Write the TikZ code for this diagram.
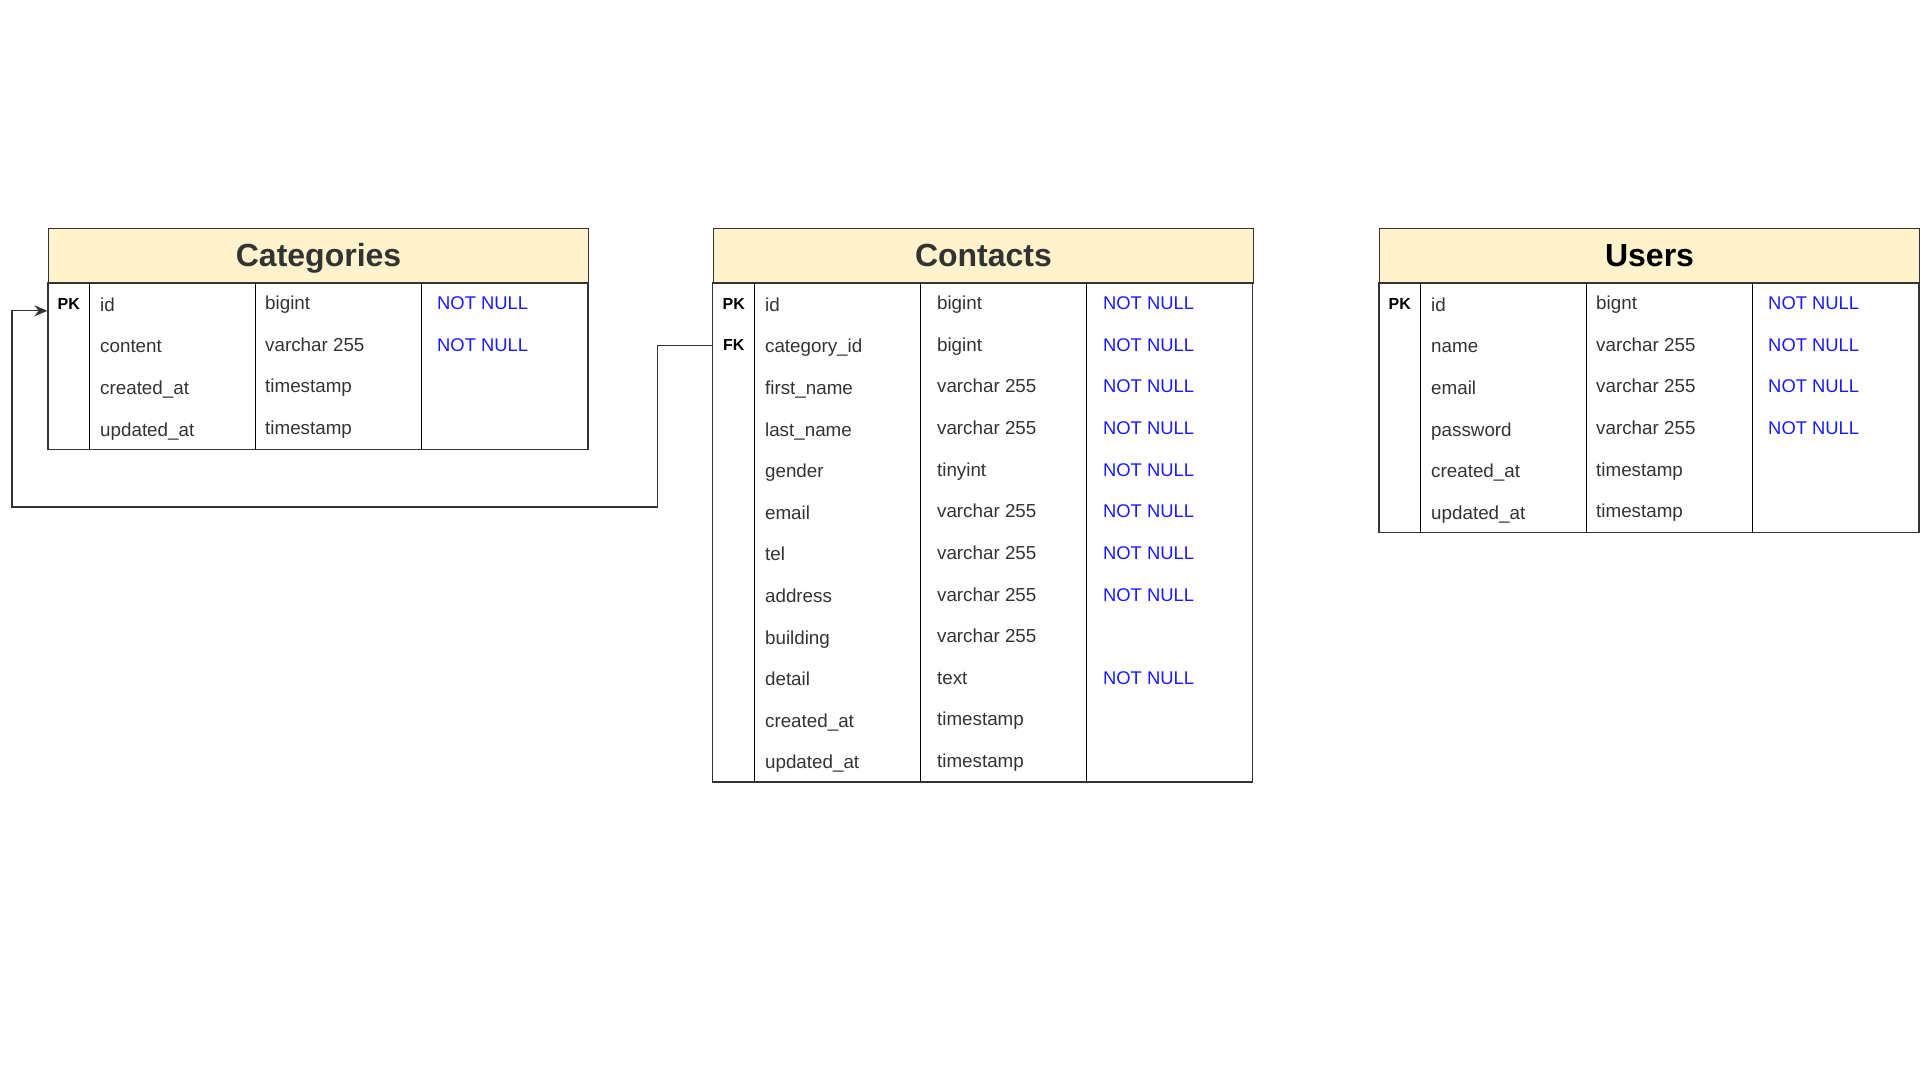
\documentclass[tikz,border=0pt]{standalone}
\usepackage{fontspec}
\setmainfont{Liberation Sans}
\usetikzlibrary{arrows.meta}
\definecolor{hdrfill}{HTML}{FFF2CC}
\definecolor{txtgray}{HTML}{333333}
\definecolor{nnblue}{HTML}{1A1AFF}

\begin{document}
\begin{tikzpicture}[x=0.5pt,y=-0.5pt,
    tblhead/.style={draw=txtgray,line width=0.75pt,fill=hdrfill,anchor=north west,
      minimum width=270pt,minimum height=27.5pt,inner sep=0pt,
      text height=11.5pt,text depth=0.8pt,
      font=\fontsize{16}{18}\selectfont\bfseries},
    tblline/.style={draw=txtgray,line width=0.75pt},
    colline/.style={draw=black,line width=0.6pt},
    keycell/.style={minimum width=21pt,minimum height=20.8pt,inner sep=0pt,
      font=\fontsize{8}{9}\selectfont\bfseries},
    fldtxt/.style={anchor=base west,inner sep=0pt,text=txtgray,
      font=\fontsize{9.4}{11}\selectfont},
    cnstxt/.style={anchor=base west,inner sep=0pt,text=nnblue,
      font=\fontsize{9.2}{11}\selectfont},
    link/.style={draw=txtgray,line width=0.65pt}]

    \useasboundingbox (0,0) rectangle (1920,1080);

    % ---- Categories ----
    \begin{scope}[shift={(47.8,0)}]
      \node[tblhead,text=txtgray] (cat-head) at (0,228) {Categories};
      \draw[tblline] (0,283) rectangle (540,449.4);
      \foreach \x in {42,208,374}
        \draw[colline] (\x,283) -- (\x,449.4);
      \foreach \i/\key/\fld/\typ/\cns in {
          1/PK/id/bigint/NOT NULL,
          2/{}/content/varchar 255/NOT NULL,
          3/{}/created\_at/timestamp/{},
          4/{}/updated\_at/timestamp/{}
      }{
        \node[keycell] (cat-k\i) at (21,{283+41.6*(\i-0.5)}) {\key};
        \node[fldtxt] (cat-f\i) at (52,{283+41.6*(\i-0.5)+7.5}) {\fld};
        \node[fldtxt] (cat-t\i) at (217,{283+41.6*(\i-0.5)+6}) {\typ};
        \node[cnstxt] (cat-c\i) at (389,{283+41.6*(\i-0.5)+6}) {\cns};
      }
    \end{scope}

    % ---- Contacts ----
    \begin{scope}[shift={(712.7,0)}]
      \node[tblhead,text=txtgray] (con-head) at (0,228) {Contacts};
      \draw[tblline] (0,283) rectangle (540,782.2);
      \foreach \x in {42,208,374}
        \draw[colline] (\x,283) -- (\x,782.2);
      \foreach \i/\key/\fld/\typ/\cns in {
          1/PK/id/bigint/NOT NULL,
          2/FK/category\_id/bigint/NOT NULL,
          3/{}/first\_name/varchar 255/NOT NULL,
          4/{}/last\_name/varchar 255/NOT NULL,
          5/{}/gender/tinyint/NOT NULL,
          6/{}/email/varchar 255/NOT NULL,
          7/{}/tel/varchar 255/NOT NULL,
          8/{}/address/varchar 255/NOT NULL,
          9/{}/building/varchar 255/{},
          10/{}/detail/text/NOT NULL,
          11/{}/created\_at/timestamp/{},
          12/{}/updated\_at/timestamp/{}
      }{
        \node[keycell] (con-k\i) at (21,{283+41.6*(\i-0.5)}) {\key};
        \node[fldtxt] (con-f\i) at (52,{283+41.6*(\i-0.5)+7.5}) {\fld};
        \node[fldtxt] (con-t\i) at (224,{283+41.6*(\i-0.5)+6}) {\typ};
        \node[cnstxt] (con-c\i) at (390,{283+41.6*(\i-0.5)+6}) {\cns};
      }
    \end{scope}

    % ---- Users ----
    \begin{scope}[shift={(1378.8,0)}]
      \node[tblhead] (usr-head) at (0,228) {Users};
      \draw[tblline] (0,283) rectangle (540,532.6);
      \foreach \x in {42,208,374}
        \draw[colline] (\x,283) -- (\x,532.6);
      \foreach \i/\key/\fld/\typ/\cns in {
          1/PK/id/bignt/NOT NULL,
          2/{}/name/varchar 255/NOT NULL,
          3/{}/email/varchar 255/NOT NULL,
          4/{}/password/varchar 255/NOT NULL,
          5/{}/created\_at/timestamp/{},
          6/{}/updated\_at/timestamp/{}
      }{
        \node[keycell] (usr-k\i) at (21,{283+41.6*(\i-0.5)}) {\key};
        \node[fldtxt] (usr-f\i) at (52,{283+41.6*(\i-0.5)+7.5}) {\fld};
        \node[fldtxt] (usr-t\i) at (217,{283+41.6*(\i-0.5)+6}) {\typ};
        \node[cnstxt] (usr-c\i) at (389,{283+41.6*(\i-0.5)+6}) {\cns};
      }
    \end{scope}

    % ---- Lien FK -> PK ----
    \coordinate (loop) at (12,507);
    \draw[link,-{Stealth[length=6.5pt,width=5.5pt]}] (con-k2.west) -- ++(-55,0) |- (loop)
      |- ([yshift=-3.5pt]cat-k1.west);

\end{tikzpicture}
\end{document}
